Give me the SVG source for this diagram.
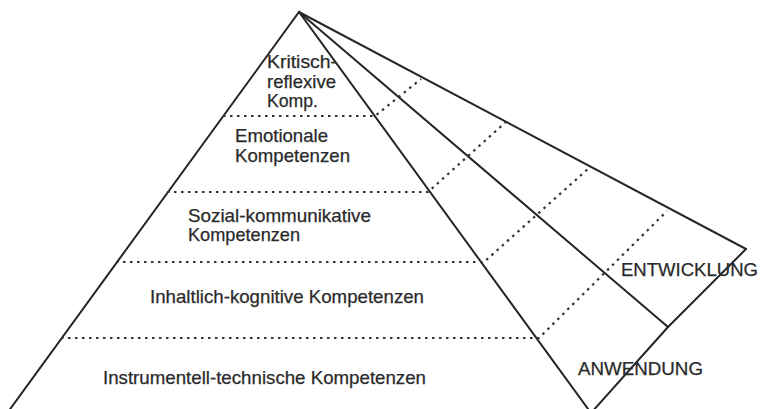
<svg xmlns="http://www.w3.org/2000/svg" width="761" height="409" viewBox="0 0 761 409">
  <style>
    .solid { fill: none; stroke: #262626; stroke-width: 2; stroke-linejoin: miter; stroke-linecap: round; }
    .dot { fill: none; stroke: #333333; stroke-width: 2.2; stroke-dasharray: 2.5 4.5; }
    .lbl { font-family: "Liberation Sans", Arial, Helvetica, sans-serif; font-size: 18.5px; fill: #2a2a2a; stroke: #2a2a2a; stroke-width: 0.25; }
  </style>
  <rect x="0" y="0" width="761" height="409" fill="#ffffff"/>

  <g id="connectors">
    <!-- pyramid outline -->
    <polyline class="solid" points="8,412 299,12 591,413"/>
    <!-- fan lines -->
    <line class="solid" x1="299" y1="12" x2="668" y2="327"/>
    <line class="solid" x1="299" y1="12" x2="746" y2="249"/>
    <polyline class="solid" points="746,249 668,327 591,413"/>
    <!-- level separators (horizontal + oblique continuation) -->
    <polyline class="dot" points="223,116 375,116 421,79"/>
    <polyline class="dot" points="167,192 428,192 507,121"/>
    <polyline class="dot" points="116,262 484,262 589,168"/>
    <polyline class="dot" points="61,338 539,338 667,211"/>
  </g>

  <g id="kritisch-reflexive">
    <text class="lbl" x="267" y="68" textLength="70" lengthAdjust="spacingAndGlyphs">Kritisch-</text>
    <text class="lbl" x="267" y="88" textLength="69" lengthAdjust="spacingAndGlyphs">reflexive</text>
    <text class="lbl" x="267" y="107" textLength="51" lengthAdjust="spacingAndGlyphs">Komp.</text>
  </g>

  <g id="emotionale">
    <text class="lbl" x="235" y="142" textLength="93" lengthAdjust="spacingAndGlyphs">Emotionale</text>
    <text class="lbl" x="235" y="162" textLength="115" lengthAdjust="spacingAndGlyphs">Kompetenzen</text>
  </g>

  <g id="sozial-kommunikative">
    <text class="lbl" x="188" y="222" textLength="183" lengthAdjust="spacingAndGlyphs">Sozial-kommunikative</text>
    <text class="lbl" x="188" y="241" textLength="112" lengthAdjust="spacingAndGlyphs">Kompetenzen</text>
  </g>

  <g id="inhaltlich-kognitive">
    <text class="lbl" x="150" y="303" textLength="274" lengthAdjust="spacingAndGlyphs">Inhaltlich-kognitive Kompetenzen</text>
  </g>

  <g id="instrumentell-technische">
    <text class="lbl" x="103" y="384" textLength="323" lengthAdjust="spacingAndGlyphs">Instrumentell-technische Kompetenzen</text>
  </g>

  <g id="entwicklung">
    <text class="lbl" x="621" y="276" textLength="137" lengthAdjust="spacingAndGlyphs">ENTWICKLUNG</text>
  </g>

  <g id="anwendung">
    <text class="lbl" x="578" y="375" textLength="125" lengthAdjust="spacingAndGlyphs">ANWENDUNG</text>
  </g>
</svg>
